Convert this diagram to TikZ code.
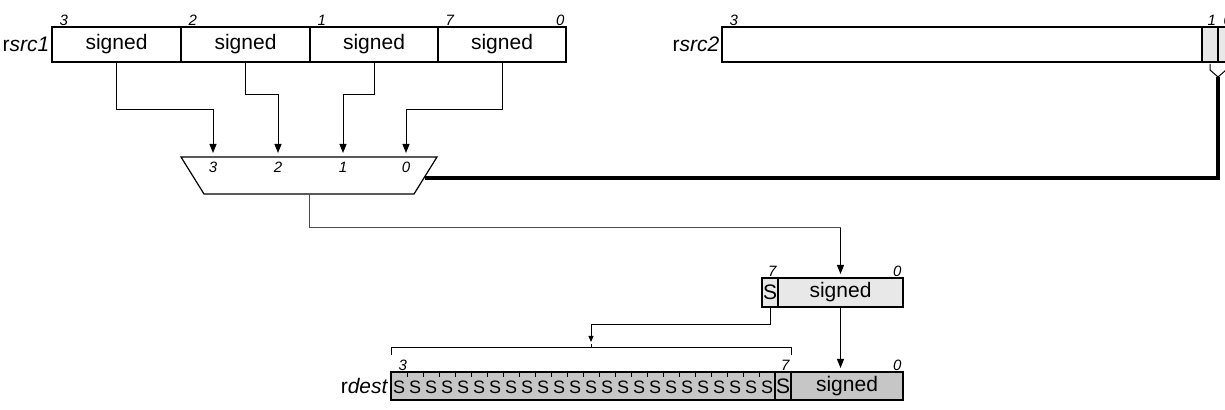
\documentclass[tikz,border=0pt]{standalone}
\usepackage{fontspec}
\setmainfont{Liberation Sans}
\usetikzlibrary{positioning,arrows.meta,shapes.geometric,calc}

\begin{document}
\begin{tikzpicture}[
    x=0.5pt, y=-0.5pt,
    cell/.style={draw, line width=0.6pt, inner sep=0pt, outer sep=0pt, font=\fontsize{10.5}{12}\selectfont},
    bitl/.style={font=\fontsize{7.5}{8}\selectfont\itshape, inner sep=0.6pt},
    muxl/.style={font=\fontsize{7.5}{8}\selectfont\itshape, inner sep=0pt},
    regl/.style={font=\fontsize{10.5}{12}\selectfont, inner sep=1.2pt, anchor=east},
    sgn/.style={font=\fontsize{9}{10}\selectfont, inner sep=0pt},
    wire/.style={line width=0.5pt},
    arr/.style={wire, -{Triangle[length=4.5pt,width=3.5pt]}},
    thk/.style={line width=1.6pt}
  ]
  \useasboundingbox (0,0) rectangle (1225,410);
  \clip (0,0) rectangle (1225,410);

  % source register 1
  \node[cell, minimum width=64.5pt, minimum height=17.5pt] (a3) at (116.5,44.5) {signed};
  \node[cell, minimum width=64.5pt, minimum height=17.5pt, right=0pt of a3] (a2) {signed};
  \node[cell, minimum width=64pt, minimum height=17.5pt, right=0pt of a2] (a1) {signed};
  \node[cell, minimum width=64pt, minimum height=17.5pt, right=0pt of a1] (a0) {signed};
  \node[regl] (ra) at (a3.west) {r\textit{src1}};
  \node[bitl, anchor=south west, xshift=3pt] (a3b) at (a3.north west) {3};
  \node[bitl, anchor=south west, xshift=3pt] (a2b) at (a2.north west) {2};
  \node[bitl, anchor=south west, xshift=3pt] (a1b) at (a1.north west) {1};
  \node[bitl, anchor=south west, xshift=3pt] (a0b) at (a0.north west) {7};
  \node[bitl, anchor=south east] (a0e) at (a0.north east) {0};

  % source register 2
  \node[cell, minimum width=240pt, minimum height=17.5pt] (b) at (962,44.5) {};
  \node[cell, fill=gray!18, minimum width=8pt, minimum height=17.5pt, right=0pt of b] (b1) {};
  \node[cell, fill=gray!18, minimum width=8pt, minimum height=17.5pt, right=0pt of b1] (b0) {};
  \node[regl] (rb) at (b.west) {r\textit{src2}};
  \node[bitl, anchor=south west, xshift=3pt] (bb) at (b.north west) {3};
  \node[bitl, anchor=south west, xshift=2pt] (b1b) at (b1.north west) {1};
  \node[bitl, anchor=south west, xshift=2pt] (b0b) at (b0.north west) {0};
  \coordinate (v) at (1218,77);
  \draw[wire] ($(b1.south)+(0,2)$) -- ++(0,6) -- (v) -- ($(b0.south)+(0,8)$) -- ++(0,-6);

  % selector
  \coordinate (mnw) at (181,157);
  \coordinate (mne) at (437,157);
  \coordinate (mse) at (414,194);
  \coordinate (msw) at (204,194);
  \coordinate (mout) at (309,194);
  \coordinate (mr) at (425,178);
  \draw[line width=0.6pt] (mnw) -- (mne) -- (mse) -- (msw) -- cycle;
  \node[muxl] (m3) at (213,167) {3};
  \node[muxl] (m2) at (278,167) {2};
  \node[muxl] (m1) at (343,167) {1};
  \node[muxl] (m0) at (406,167) {0};

  \draw[arr, shorten >=2pt] (a3.south) -- ++(0,48) -| (m3 |- mnw);
  \draw[arr, shorten >=2pt] (a2.south) -- ++(0,33) -| (m2 |- mnw);
  \draw[arr, shorten >=2pt] (a1.south) -- ++(0,33) -| (m1 |- mnw);
  \draw[arr, shorten >=2pt] (a0.south) -- ++(0,48) -| (m0 |- mnw);
  \draw[thk] (v) |- (mr);

  % intermediate result
  \node[cell, fill=gray!18, minimum width=8pt, minimum height=14.5pt] (xs) at (770,292.5) {S};
  \node[cell, fill=gray!18, minimum width=62.5pt, minimum height=14.5pt, right=0pt of xs] (xv) {signed};
  \node[bitl, anchor=south east] (xsb) at (xs.north east) {7};
  \node[bitl, anchor=south east] (xve) at (xv.north east) {0};

  \coordinate (t) at (xv.north |- 0,228);
  \draw[wire, gray!60!black] (mout) |- (t);
  \draw[arr, shorten >=2pt] (t) -- (xv.north);

  % destination register
  \node[cell, fill=gray!45, minimum width=192pt, minimum height=14pt] (se) at (583,386) {};
  \node[cell, fill=gray!45, minimum width=8pt, minimum height=14pt, right=0pt of se] (ss) {S};
  \node[cell, fill=gray!45, minimum width=56pt, minimum height=14pt, right=0pt of ss] (sd) {signed};
  \node[regl] (rd) at (se.west) {r\textit{dest}};
  \node[bitl, anchor=south west, xshift=3pt] (seb) at (se.north west) {3};
  \node[bitl, anchor=south east] (ssb) at (ss.north east) {7};
  \node[bitl, anchor=south east] (sde) at (sd.north east) {0};
  \foreach \i in {0,...,23}
    \node[sgn] (s\i) at ($(se.west)+(8+16*\i,1)$) {S};
  \foreach \i in {1,...,23}
    \draw[wire] ($(se.north west)+(16*\i,0)$) -- ++(0,5);

  % sign fill bracket
  \coordinate (k) at (591,348);
  \draw[wire] ($(se.north west)+(0,-17)$) -- ($(se.north west)+(0,-24)$) -- ($(ss.north east)+(0,-24)$) -- ($(ss.north east)+(0,-17)$);
  \draw[wire] (k) -- ++(0,-4) coordinate (kt);
  \draw[wire, -{Triangle[length=3pt,width=2.5pt]}, shorten >=1pt] (xs.south) -- ++(0,18) -| (kt);
  \draw[arr, shorten >=2pt] (xv.south) -- (xv.south |- sd.north);
\end{tikzpicture}
\end{document}
